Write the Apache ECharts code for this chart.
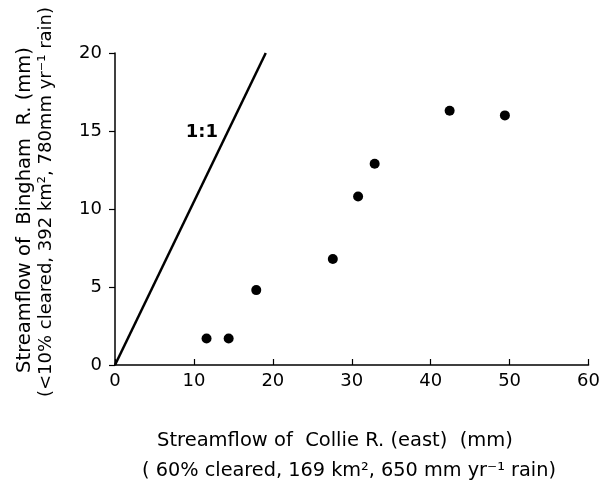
<!DOCTYPE html>
<html><head><meta charset="utf-8">
<script src="https://cdn.jsdelivr.net/npm/echarts@6/dist/echarts.min.js"></script>
<style>html,body{margin:0;padding:0;background:#fff}#c{width:603px;height:488px}</style>
</head><body><div id="c"></div>
<script>
var collieX = [11.6, 14.4, 17.9, 27.6, 30.8, 32.9, 42.4, 49.4];
var binghamY = [1.7, 1.7, 4.8, 6.8, 10.8, 12.9, 16.3, 16.0];
var lineX = [0, 19.1];
var lineY = [0, 20];
var xTicks = [0, 10, 20, 30, 40, 50, 60];
var yTicks = [0, 5, 10, 15, 20];
var ff = 'DejaVu Sans';
var pts = collieX.map(function(x, i){ return [x, binghamY[i]]; });
var ln = lineX.map(function(x, i){ return [x, lineY[i]]; });
var chart = echarts.init(document.getElementById('c'));
chart.setOption({
  animation: false,
  backgroundColor: '#fff',
  grid: {left: 115, right: 14, top: 53, bottom: 123},
  xAxis: {
    type: 'value', min: 0, max: 60, interval: 10,
    axisLine: {show: true, lineStyle: {color: '#000', width: 1.5}},
    axisTick: {show: true, inside: true, length: 6, lineStyle: {color: '#000', width: 1.2}},
    axisLabel: {color: '#000', fontSize: 18, fontFamily: ff, margin: 7},
    splitLine: {show: false}
  },
  yAxis: {
    type: 'value', min: 0, max: 20, interval: 5,
    axisLine: {show: true, lineStyle: {color: '#000', width: 1.5}},
    axisTick: {show: true, inside: false, length: 6, lineStyle: {color: '#000', width: 1.2}},
    axisLabel: {color: '#000', fontSize: 18, fontFamily: ff, margin: 13},
    splitLine: {show: false}
  },
  graphic: [
    {type: 'text', x: 335, y: 441, style: {text: 'Streamflow of  Collie R. (east)  (mm)', fontSize: 19.5, fontFamily: ff, fill: '#000', textAlign: 'center', textVerticalAlign: 'middle'}},
    {type: 'text', x: 349, y: 471, style: {text: '( 60% cleared, 169 km², 650 mm yr⁻¹ rain)', fontSize: 19.3, fontFamily: ff, fill: '#000', textAlign: 'center', textVerticalAlign: 'middle'}},
    {type: 'text', x: 25, y: 210, rotation: Math.PI/2, style: {text: 'Streamflow of  Bingham  R. (mm)', fontSize: 19.5, fontFamily: ff, fill: '#000', textAlign: 'center', textVerticalAlign: 'middle'}},
    {type: 'text', x: 46, y: 202, rotation: Math.PI/2, style: {text: '(<10% cleared, 392 km², 780mm yr⁻¹ rain)', fontSize: 18, fontFamily: ff, fill: '#000', textAlign: 'center', textVerticalAlign: 'middle'}}
  ],
  series: [
    {
      type: 'line', data: ln, symbol: 'none', silent: true,
      lineStyle: {color: '#000', width: 2.5},
      markPoint: {
        symbol: 'circle', symbolSize: 0,
        data: [{coord: [11.0, 14.9], label: {show: true, formatter: '1:1', color: '#000', fontSize: 18, fontWeight: 'bold', fontFamily: ff}}]
      }
    },
    {
      type: 'scatter', data: pts, symbol: 'circle', symbolSize: 10,
      itemStyle: {color: '#000', opacity: 1}
    }
  ]
});
</script></body></html>
